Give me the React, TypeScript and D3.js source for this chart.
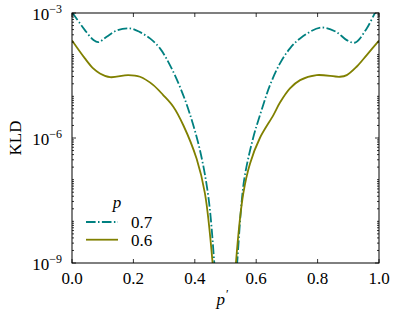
import React from 'react';
import * as d3 from 'd3';

// p' positions and log10(KLD), p = 0.7
const pPrime07 = [0, 0.026, 0.042, 0.07, 0.086, 0.113, 0.146, 0.189, 0.2215, 0.254, 0.2866, 0.319, 0.352, 0.382, 0.417, 0.444, 0.4635, 0.48, 0.5, 0.52, 0.538, 0.553, 0.563, 0.59, 0.618, 0.645, 0.6775, 0.71, 0.743, 0.81, 0.86, 0.895, 0.922, 0.96, 0.987, 1.0];
const logKld07 = [-2.98, -3.25, -3.41, -3.65, -3.7, -3.57, -3.42, -3.37, -3.46, -3.61, -3.85, -4.25, -4.78, -5.38, -6.3, -7.4, -9.0, -11, -13, -11, -9.0, -7.5, -6.9, -6.0, -5.32, -4.73, -4.21, -3.85, -3.61, -3.35, -3.45, -3.65, -3.71, -3.37, -3.0, -2.85];

// p = 0.6
const pPrime06 = [0, 0.042, 0.069, 0.091, 0.124, 0.183, 0.2215, 0.265, 0.297, 0.33, 0.363, 0.406, 0.433, 0.458, 0.475, 0.5, 0.52, 0.534, 0.558, 0.58, 0.612, 0.656, 0.6775, 0.71, 0.743, 0.797, 0.873, 0.895, 0.927, 0.96, 1.0];
const logKld06 = [-3.66, -4.09, -4.33, -4.45, -4.54, -4.49, -4.53, -4.73, -4.97, -5.25, -5.7, -6.5, -7.33, -9.0, -11, -13, -11, -9.0, -7.33, -6.61, -6.0, -5.45, -5.15, -4.81, -4.61, -4.49, -4.53, -4.49, -4.29, -4.01, -3.66];

const xTicks = [0, 0.2, 0.4, 0.6, 0.8, 1.0];
const yMajorExp = [-3, -6, -9];
const legendLabels = ['0.7', '0.6'];

const W = 397;
const H = 317;
const margin = { top: 13, right: 18, bottom: 54, left: 72 };
const font = "'Times New Roman', 'Liberation Serif', 'DejaVu Serif', serif";

export default function App() {
    const x = d3.scaleLinear().domain([0, 1]).range([margin.left, W - margin.right]);
    const y = d3.scaleLog().domain([1e-9, 1e-3]).range([H - margin.bottom, margin.top]);

    const line = d3.line<[number, number]>()
        .x(d => x(d[0]))
        .y(d => y(Math.pow(10, d[1])))
        .curve(d3.curveCatmullRom.alpha(0.5));

    const series = [
        { name: legendLabels[0], color: '#008080', dash: '9.6,2.4,1.5,2.4', pts: pPrime07.map((p, i) => [p, logKld07[i]] as [number, number]) },
        { name: legendLabels[1], color: '#808000', dash: null, pts: pPrime06.map((p, i) => [p, logKld06[i]] as [number, number]) },
    ];

    const [x0, x1] = x.range();
    const [yb, yt] = y.range();

    // minor log ticks
    const minor: number[] = [];
    for (let e = -9; e < -3; e++) {
        for (let k = 1; k <= 9; k++) {
            const v = k * Math.pow(10, e);
            if (k === 1 && yMajorExp.includes(e)) continue;
            minor.push(v);
        }
    }

    return (
        <div style={{ position: 'absolute', left: 0, top: 0, fontFamily: font }}>
            <svg width={W} height={H} style={{ display: 'block', background: 'white', fontFamily: font }}>
                <defs>
                    <clipPath id="plot">
                        <rect x={x0} y={yt} width={x1 - x0} height={yb - yt} />
                    </clipPath>
                </defs>

                <g clipPath="url(#plot)">
                    {series.map(s => (
                        <path key={s.name} d={line(s.pts) || ''} fill="none" stroke={s.color}
                            strokeWidth={1.8} strokeDasharray={s.dash || undefined} />
                    ))}
                </g>

                {/* ticks, inward on all four sides */}
                <g stroke="black" strokeWidth={0.8}>
                    {xTicks.map(t => (
                        <g key={t}>
                            <line x1={x(t)} x2={x(t)} y1={yb} y2={yb - 4} />
                            <line x1={x(t)} x2={x(t)} y1={yt} y2={yt + 4} />
                        </g>
                    ))}
                    {yMajorExp.map(e => (
                        <g key={e}>
                            <line x1={x0} x2={x0 + 4} y1={y(Math.pow(10, e))} y2={y(Math.pow(10, e))} />
                            <line x1={x1} x2={x1 - 4} y1={y(Math.pow(10, e))} y2={y(Math.pow(10, e))} />
                        </g>
                    ))}
                    {minor.map(v => (
                        <g key={v}>
                            <line x1={x0} x2={x0 + 2} y1={y(v)} y2={y(v)} />
                            <line x1={x1} x2={x1 - 2} y1={y(v)} y2={y(v)} />
                        </g>
                    ))}
                </g>

                <rect x={x0} y={yt} width={x1 - x0} height={yb - yt} fill="none" stroke="black" strokeWidth={1} />

                {/* tick labels */}
                <g fontSize={17} fill="black">
                    {xTicks.map(t => (
                        <text key={t} x={x(t)} y={yb + 21} textAnchor="middle">{t.toFixed(1)}</text>
                    ))}
                    {yMajorExp.map(e => (
                        <text key={e} x={x0 - 10} y={y(Math.pow(10, e)) + 7} textAnchor="end">
                            10<tspan dy={-7} fontSize={12}>{'\u2212' + Math.abs(e)}</tspan>
                        </text>
                    ))}
                </g>

                {/* axis labels */}
                <text x={x(0.5) - 3} y={H - 12} fontSize={17} fontStyle="italic" textAnchor="middle">
                    p<tspan fontStyle="normal" dx={1} dy={-7} fontSize={12}>{'\u2032'}</tspan>
                </text>
                <text transform={`translate(21,${(yt + yb) / 2}) rotate(-90)`} fontSize={17} textAnchor="middle">KLD</text>

                {/* legend */}
                <g fontSize={17}>
                    <text x={117} y={208} fontStyle="italic" textAnchor="middle">p</text>
                    {series.map((s, i) => (
                        <g key={s.name} transform={`translate(86,${222 + i * 17.7})`}>
                            <line x1={0} x2={32} y1={0} y2={0} stroke={s.color} strokeWidth={1.8}
                                strokeDasharray={s.dash || undefined} />
                            <text x={45} y={6}>{s.name}</text>
                        </g>
                    ))}
                </g>
            </svg>
        </div>
    );
}
